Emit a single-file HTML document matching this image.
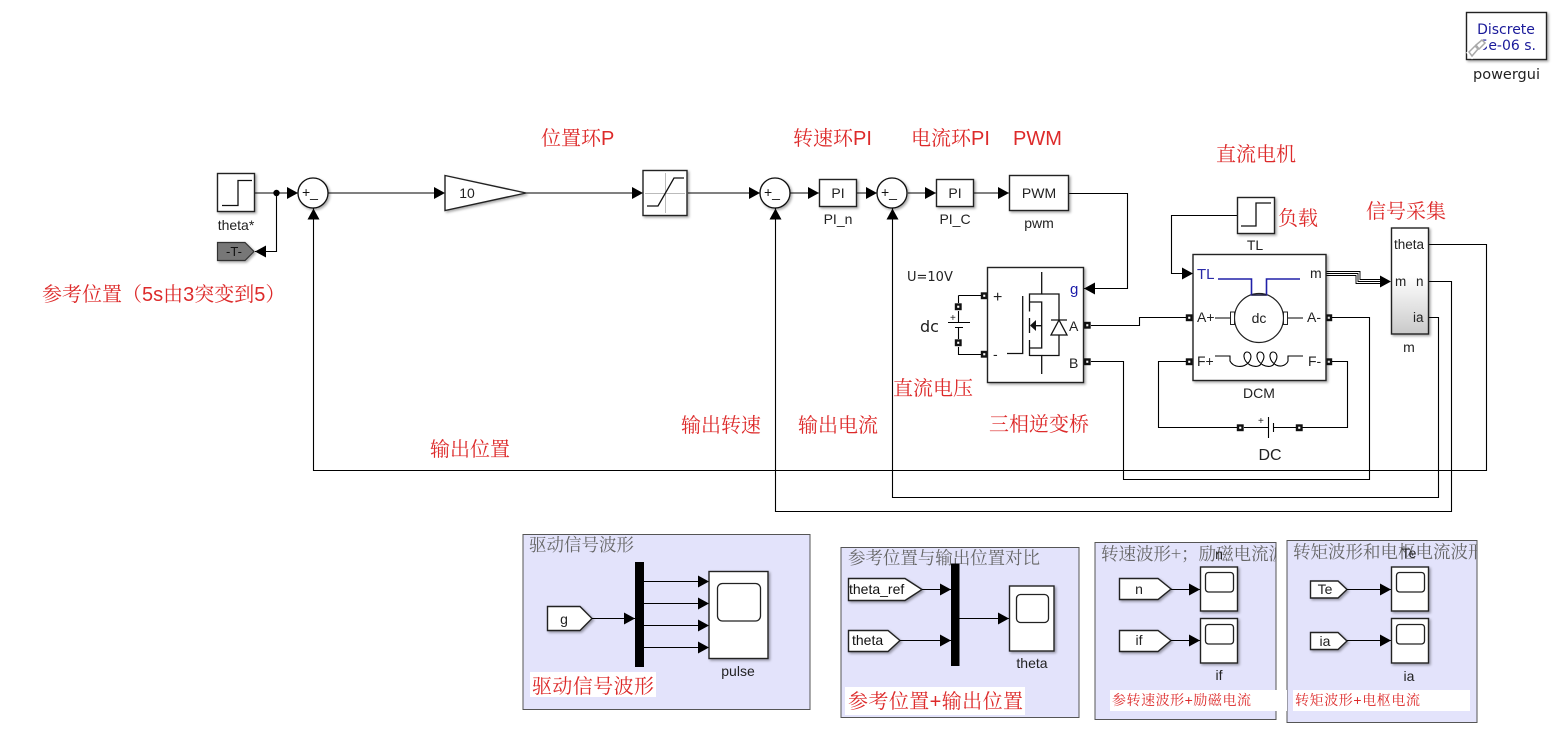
<!DOCTYPE html>
<html><head><meta charset="utf-8">
<style>
html,body{margin:0;padding:0;background:#fff}
svg{display:block;font-family:"Liberation Sans","Noto Sans CJK SC",sans-serif}
.w{fill:none;stroke:#000;stroke-width:1.1}
.b{fill:#fff;stroke:#222;stroke-width:1.4;filter:url(#s)}
.p{fill:none;stroke:#111;stroke-width:1.3}
.t{font-size:14px;fill:#222;text-anchor:middle}
.r{font-family:"Liberation Sans","Noto Serif CJK SC",serif;font-size:20px;fill:#dd2a2a}
.h{font-family:"Noto Serif CJK SC",serif;font-size:17.5px;fill:#666}
.sub{fill:#e3e3fb;stroke:#555;stroke-width:1}
.sc{fill:#fff;stroke:#222;stroke-width:1.4;filter:url(#s)}
.scr{fill:#fff;stroke:#222;stroke-width:1.3}
.port{fill:#fff;stroke:#111;stroke-width:2.4}
</style></head><body>
<svg width="1558" height="730" viewBox="0 0 1558 730" xmlns="http://www.w3.org/2000/svg">
<defs>
<filter id="s" x="-20%" y="-20%" width="150%" height="150%"><feDropShadow dx="1.5" dy="1.5" stdDeviation="1.2" flood-color="#000" flood-opacity=".35"/></filter>
<marker id="a" markerUnits="userSpaceOnUse" markerWidth="12" markerHeight="12" refX="11" refY="6" orient="auto"><path d="M0,0L11,6L0,12Z" fill="#000"/></marker>
<linearGradient id="g" x1="0" y1="0" x2="0" y2="1"><stop offset=".45" stop-color="#fff"/><stop offset="1" stop-color="#c9c9c9"/></linearGradient>
<clipPath id="c3"><rect x="1095" y="542" width="181" height="177"/></clipPath>
<clipPath id="c4"><rect x="1287" y="540" width="190" height="182"/></clipPath>
</defs>

<!-- wires main -->
<path class="w" d="M254,193H298" marker-end="url(#a)"/>
<circle cx="276.500" cy="193" r="3.200" fill="#000"/>
<path class="w" d="M276.500,193V251.500H255" marker-end="url(#a)"/>
<path class="w" d="M328,193H445" marker-end="url(#a)"/>
<path class="w" d="M526,193H643" marker-end="url(#a)"/>
<path class="w" d="M688,193H760" marker-end="url(#a)"/>
<path class="w" d="M790,193H819" marker-end="url(#a)"/>
<path class="w" d="M856,193H877" marker-end="url(#a)"/>
<path class="w" d="M908,193H936" marker-end="url(#a)"/>
<path class="w" d="M973,193H1009" marker-end="url(#a)"/>
<path class="w" d="M1068,193.500H1127.500V288.500H1084" marker-end="url(#a)"/>
<path class="w" d="M1428,244.500H1486.500V470.500H313.500V208.500" marker-end="url(#a)"/>
<path class="w" d="M1428,281.500H1451.500V511.500H775.500V208.500" marker-end="url(#a)"/>
<path class="w" d="M1428,317.500H1438.500V497.500H892.500V208.500" marker-end="url(#a)"/>
<path class="w" d="M1091,361.500H1123.500V479.500H1369.500V317.500H1331"/>
<path class="w" d="M1091,325.500H1139.500V317.500H1186"/>
<path class="w" d="M958.500,295.500H981M958.500,295.500V303M958.500,347V354.500H981"/>
<path class="w" d="M1237,215.500H1171.500V273.500H1193" marker-end="url(#a)"/>
<path class="w" d="M1186,361.500H1158.500V427.500H1237M1331,361.500H1347.500V427.500H1302"/>
<path class="w" d="M1244,427.500H1268M1273,427.500H1296"/>
<path d="M1268.500,417V438M1273.500,423V432" class="w" stroke-width="1.4"/>
<text x="1258" y="424" font-size="10" fill="#222">+</text>
<path fill="none" stroke="#000" stroke-width=".9" d="M1326,271.500H1360V279.500H1385M1326,273.500H1358V281.500H1385M1326,275.500H1356V283.500H1385"/>
<path d="M1380,275.500L1391,281.500L1380,287.500Z" fill="#000"/>

<!-- battery dc -->
<path class="w" d="M948,322.500H970M955,327.500H963M958.500,311V322M958.500,328V339"/>
<text x="950" y="321" font-size="10" fill="#222">+</text>
<text x="920" y="332" font-size="16" fill="#222" font-family="DejaVu Sans">dc</text>
<text x="907" y="281" font-size="13" fill="#222" font-family="DejaVu Sans">U=10V</text>

<!-- ports -->
<g class="port">
<rect x="982" y="293.500" width="4.500" height="4.500"/><rect x="982" y="352" width="4.500" height="4.500"/>
<rect x="1085" y="323" width="4.500" height="4.500"/><rect x="1085" y="359.500" width="4.500" height="4.500"/>
<rect x="956" y="304.500" width="4.500" height="4.500"/><rect x="956" y="340.500" width="4.500" height="4.500"/>
<rect x="1187" y="315.500" width="4.500" height="4.500"/><rect x="1187" y="359.500" width="4.500" height="4.500"/>
<rect x="1326.500" y="315.500" width="4.500" height="4.500"/><rect x="1326.500" y="359.500" width="4.500" height="4.500"/>
<rect x="1238" y="425.500" width="4.500" height="4.500"/><rect x="1297" y="425.500" width="4.500" height="4.500"/>
</g>

<!-- theta* step -->
<rect class="b" x="217.500" y="173.500" width="37" height="38"/>
<path class="p" d="M222,205.500H238V180.500H252"/>
<text class="t" x="236" y="230">theta*</text>
<path d="M217.500,242.500H245L254,251.500L245,260.500H217.500Z" fill="#777" stroke="#333" stroke-width="1.2" filter="url(#s)"/>
<text x="234" y="256" font-size="13" fill="#111" text-anchor="middle">-T-</text>

<!-- sums -->
<g fill="#fff" stroke="#111" stroke-width="1.3" filter="url(#s)">
<circle cx="313" cy="193" r="15"/><circle cx="775" cy="193" r="15"/><circle cx="892" cy="193" r="15"/>
</g>
<g font-size="14" fill="#111">
<text x="302" y="197">+_</text><text x="764" y="197">+_</text><text x="881" y="197">+_</text>
</g>

<!-- gain -->
<path class="b" d="M445,175.500L526,193L445,210.500Z"/>
<text class="t" x="467" y="198">10</text>

<!-- saturation -->
<rect class="b" x="643" y="170.500" width="44" height="45"/>
<path d="M645,193.500H685M665.500,173V213" stroke="#bbb" stroke-width="1" fill="none"/>
<path class="p" d="M647,206H658L674,178H684"/>

<!-- PI blocks -->
<rect class="b" x="819.500" y="179.500" width="37" height="27"/>
<text class="t" x="838" y="198">PI</text><text class="t" x="838" y="224">PI_n</text>
<rect class="b" x="936.500" y="179.500" width="37" height="27"/>
<text class="t" x="955" y="198">PI</text><text class="t" x="955" y="224">PI_C</text>
<rect class="b" x="1009.500" y="175.500" width="59" height="35"/>
<text class="t" x="1039" y="198">PWM</text><text class="t" x="1039" y="228">pwm</text>

<!-- inverter -->
<rect class="b" x="987.500" y="267.500" width="96" height="115"/>
<g class="p">
<path d="M1041.700,272V294H1029.500V311.500M1029.500,302H1041.700V325.700H1033M1029.500,318V333M1041.700,325.700V348H1029.500M1029.500,340V356M1029.500,355.500H1041.700V374M1022.700,296V353.500H1007"/>
<path d="M1041.700,294H1059V320M1051,320H1067M1059,335V355.500H1041.700"/>
<path d="M1059,320L1051,335H1067Z"/>
</g>
<path d="M1030,325.500L1036,320V331Z" fill="#111"/>
<text x="993" y="302" font-size="16" fill="#222">+</text>
<text x="993" y="359" font-size="14" fill="#222">-</text>
<text x="1070" y="294" font-size="15" fill="#1a1aa8">g</text>
<text x="1069" y="331" font-size="14" fill="#222">A</text>
<text x="1069" y="368" font-size="14" fill="#222">B</text>

<!-- TL step -->
<rect class="b" x="1237.500" y="197.500" width="37" height="36"/>
<path class="p" d="M1241,226H1256V203H1271"/>
<text class="t" x="1255" y="250">TL</text>

<!-- DCM -->
<rect class="b" x="1193" y="254.500" width="133" height="126"/>
<circle cx="1259" cy="318" r="24.500" fill="#fff" stroke="#222" stroke-width="1.200"/>
<path d="M1218,279H1251.500V295H1266.500V279H1300" fill="none" stroke="#2020a8" stroke-width="1.600"/>
<path d="M1251.500,295H1266.500" stroke="#222" stroke-width="1.200"/>
<rect x="1230.500" y="312" width="4" height="12.500" fill="#fff" stroke="#222"/>
<rect x="1283.500" y="312" width="4" height="12.500" fill="#fff" stroke="#222"/>
<path class="w" d="M1215,318H1230M1288,318H1303"/>
<path class="w" d="M1215,356H1230V361C1233,367 1243,369 1249,362C1253,356 1250,352 1247,352C1243,352 1242,360 1250,365C1256,368 1261,366 1262,362C1266,356 1263,352 1260,352C1256,352 1255,360 1263,365C1269,368 1274,366 1275,362C1279,356 1276,352 1273,352C1269,352 1268,360 1276,365C1282,368 1287,364 1288,361V356H1303"/>
<text x="1197" y="279" font-size="15" fill="#2a2aa8">TL</text>
<text x="1310" y="278" font-size="14" fill="#222">m</text>
<text x="1197" y="322" font-size="14" fill="#222">A+</text>
<text x="1307" y="322" font-size="14" fill="#222">A-</text>
<text x="1197" y="366" font-size="14" fill="#222">F+</text>
<text x="1308" y="366" font-size="14" fill="#222">F-</text>
<text x="1259" y="323" font-size="14" fill="#222" text-anchor="middle">dc</text>
<text class="t" x="1259" y="398">DCM</text>
<text class="t" x="1270" y="460" style="font-size:16px">DC</text>

<!-- demux m -->
<rect x="1391.500" y="228" width="37" height="106" fill="url(#g)" stroke="#222" stroke-width="1.400" filter="url(#s)"/>
<text x="1394" y="249" font-size="13.500" fill="#222">theta</text>
<text x="1395" y="286" font-size="13.500" fill="#222">m</text>
<text x="1416" y="286" font-size="13.500" fill="#222">n</text>
<text x="1413" y="322" font-size="13.500" fill="#222">ia</text>
<text class="t" x="1409" y="352">m</text>

<!-- powergui -->
<rect x="1466.500" y="12.500" width="80" height="47" fill="#fff" stroke="#222" stroke-width="1.400" filter="url(#s)"/>
<text x="1506" y="34" font-size="14" fill="#1a1a9a" text-anchor="middle" font-family="DejaVu Sans">Discrete</text>
<text x="1536" y="50" font-size="14" fill="#1a1a9a" text-anchor="end" font-family="DejaVu Sans">5e-06 s.</text>
<path d="M1469,56L1485,42" stroke="#fff" stroke-width="9"/>
<path d="M1469,52L1475,46L1478,49L1472,56ZM1476,45L1482,40L1485,43L1479,49Z" fill="none" stroke="#aaa" stroke-width="1.500"/>
<text x="1506.500" y="79" font-size="14.500" fill="#222" text-anchor="middle" font-family="DejaVu Sans">powergui</text>

<!-- Red labels -->
<g class="r">
<text x="541" y="145">位置环P</text>
<text x="793" y="145">转速环PI</text>
<text x="911" y="145">电流环PI</text>
<text x="1013" y="145">PWM</text>
<text x="1216" y="161">直流电机</text>
<text x="1278" y="225">负载</text>
<text x="1366" y="218">信号采集</text>
<text x="42" y="301">参考位置（5s由3突变到5）</text>
<text x="681" y="432">输出转速</text>
<text x="798" y="432">输出电流</text>
<text x="893" y="395">直流电压</text>
<text x="989" y="431">三相逆变桥</text>
<text x="430" y="456">输出位置</text>
</g>

<!-- Subsystem 1 -->
<rect class="sub" x="523" y="534.500" width="287" height="175"/>
<text class="h" x="529" y="551">驱动信号波形</text>
<path d="M547.500,606.500H580L592,618.500L580,630.500H547.500Z" class="b"/>
<text class="t" x="564" y="624">g</text>
<path class="w" d="M592,618.500H635" marker-end="url(#a)"/>
<rect x="635" y="562" width="9" height="105" fill="#000"/>
<path class="w" d="M644,581.500H709" marker-end="url(#a)"/>
<path class="w" d="M644,603.500H709" marker-end="url(#a)"/>
<path class="w" d="M644,625.500H709" marker-end="url(#a)"/>
<path class="w" d="M644,647.500H709" marker-end="url(#a)"/>
<rect class="sc" x="709" y="571.500" width="59" height="87"/>
<rect class="scr" x="717.500" y="583.500" width="43" height="37.500" rx="5"/>
<text class="t" x="738" y="676">pulse</text>
<rect x="530" y="672" width="126" height="25" fill="#fff"/>
<text class="r" x="532" y="693" textLength="122">驱动信号波形</text>

<!-- Subsystem 2 -->
<rect class="sub" x="841" y="547.500" width="238" height="170"/>
<text class="h" x="848" y="564" textLength="192">参考位置与输出位置对比</text>
<path d="M848.500,578.500H905L922,589.500L905,600.500H848.500Z" class="b"/>
<text x="849" y="594" font-size="14" fill="#111">theta_ref</text>
<path d="M848.500,630.500H888L900,640.500L888,651.500H848.500Z" class="b"/>
<text x="852" y="645" font-size="14" fill="#111">theta</text>
<path class="w" d="M922,589.500H951" marker-end="url(#a)"/>
<path class="w" d="M900,640.500H951" marker-end="url(#a)"/>
<rect x="951" y="563.500" width="8.500" height="102.500" fill="#000"/>
<path class="w" d="M959,618.500H1009" marker-end="url(#a)"/>
<rect class="sc" x="1009.500" y="586" width="44.500" height="65"/>
<rect class="scr" x="1016.500" y="594.500" width="32" height="28" rx="4"/>
<text class="t" x="1032" y="668">theta</text>
<rect x="845" y="687" width="180" height="28" fill="#fff"/>
<text class="r" x="848" y="708" textLength="175">参考位置+输出位置</text>

<!-- Subsystem 3 -->
<rect class="sub" x="1095" y="542.500" width="181" height="177"/>
<g clip-path="url(#c3)"><text class="h" x="1101" y="560">转速波形+；励磁电流波形</text></g>
<text class="t" x="1219" y="559">n</text>
<path d="M1119.500,578.500H1158L1171,589L1158,599.500H1119.500Z" class="b"/>
<text class="t" x="1139" y="594">n</text>
<path d="M1119.500,630.500H1158L1171,640.500L1158,651.500H1119.500Z" class="b"/>
<text class="t" x="1139" y="645">if</text>
<path class="w" d="M1171,589.500H1200" marker-end="url(#a)"/>
<path class="w" d="M1171,640.500H1200" marker-end="url(#a)"/>
<rect class="sc" x="1200.500" y="567" width="37" height="44"/>
<rect class="scr" x="1205.500" y="572.500" width="28" height="19.500" rx="3"/>
<rect class="sc" x="1200.500" y="618.500" width="37" height="44.500"/>
<rect class="scr" x="1205.500" y="624.500" width="28" height="19.500" rx="3"/>
<text class="t" x="1219" y="680">if</text>

<!-- Subsystem 4 -->
<rect class="sub" x="1287" y="540.500" width="190" height="182"/>
<g clip-path="url(#c4)"><text class="h" x="1293" y="558">转矩波形和电枢电流波形</text></g>
<text class="t" x="1409" y="558">Te</text>
<path d="M1310.500,581H1338L1347,589.500L1338,598H1310.500Z" class="b"/>
<text class="t" x="1325" y="594">Te</text>
<path d="M1310.500,632.500H1338L1347,641L1338,649.500H1310.500Z" class="b"/>
<text class="t" x="1325" y="646">ia</text>
<path class="w" d="M1347,589.500H1391" marker-end="url(#a)"/>
<path class="w" d="M1347,640.500H1391" marker-end="url(#a)"/>
<rect class="sc" x="1391.500" y="567" width="37" height="44"/>
<rect class="scr" x="1396.500" y="572.500" width="28" height="19.500" rx="3"/>
<rect class="sc" x="1391.500" y="618.500" width="37" height="44.500"/>
<rect class="scr" x="1396.500" y="624.500" width="28" height="19.500" rx="3"/>
<text class="t" x="1409" y="681">ia</text>

<rect x="1110" y="690" width="177" height="21" fill="#fff"/>
<rect x="1293" y="690" width="177" height="21" fill="#fff"/>
<text class="r" x="1112" y="705" style="font-size:14px" textLength="139">参转速波形+励磁电流</text>
<text class="r" x="1295" y="705" style="font-size:14px" textLength="125">转矩波形+电枢电流</text>
</svg>
</body></html>
